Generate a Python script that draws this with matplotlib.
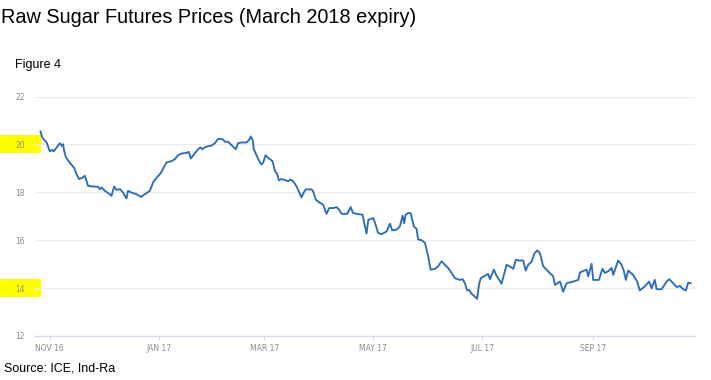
import matplotlib
matplotlib.use("Agg")
import matplotlib.pyplot as plt
from matplotlib.patches import Rectangle
import pandas as pd

# days after 1 Nov 2016 and price (US cents/lb)
days = [-5.2, -4.3, -1.8, 0.0, 1.3, 2.2, 3.8, 5.6, 6.6, 7.4, 8.0, 9.0, 11.2, 13.6, 14.9,
        16.4, 18.1, 19.6, 21.4, 24.2, 27.0, 28.0, 28.9, 30.8, 33.6, 34.5, 36.0, 37.3,
        39.2, 41.0, 42.9, 43.8, 45.7, 48.5, 51.0, 53.2, 56.0, 57.8, 59.7, 62.2, 63.4,
        65.3, 68.1, 70.0, 71.8, 73.7, 76.5, 77.8, 78.9, 80.8, 83.0, 84.4, 85.3, 87.3,
        90.5, 92.4, 94.2, 96.7, 98.0, 99.8, 101.7, 104.1, 105.4, 107.3, 110.1, 111.6,
        112.5, 113.5, 114.2, 115.7, 117.2, 118.5, 119.4, 120.8, 122.2, 124.7, 126.0,
        127.3, 128.2, 129.7, 132.1, 133.4, 134.8, 136.2, 138.1, 139.6, 140.9, 142.2,
        143.3, 146.5, 147.4, 148.9, 150.8, 153.0, 154.9, 156.4, 158.6, 160.5, 162.0,
        163.3, 166.5, 168.4, 169.8, 172.6, 175.1, 176.4, 177.3, 178.3, 181.1, 182.4,
        183.8, 185.7, 188.5, 190.4, 191.7, 194.1, 196.0, 197.5, 198.4, 199.2, 200.6,
        202.0, 203.8, 205.3, 206.2, 208.1, 210.0, 211.8, 213.2, 215.6, 217.4, 219.3,
        221.2, 223.0, 224.9, 226.8, 229.6, 231.1, 232.4, 233.6, 234.8, 236.1, 238.0,
        239.2, 240.4, 241.3, 243.6, 245.4, 246.4, 248.6, 250.1, 251.6, 252.9, 254.2,
        255.7, 257.6, 259.4, 260.9, 262.8, 265.0, 266.4, 267.8, 269.7, 271.3, 273.0,
        274.4, 276.2, 278.9, 281.8, 282.8, 285.6, 287.4, 289.3, 293.0, 295.8, 296.8,
        300.5, 301.4, 303.3, 304.2, 307.4, 309.4, 310.8, 312.6, 314.5, 315.4, 318.2,
        320.1, 321.4, 322.5, 323.8, 326.6, 328.8, 330.3, 333.1, 335.5, 336.9, 338.7,
        339.7, 342.5, 345.3, 346.8, 349.0, 350.9, 352.7, 354.6, 356.1, 357.4, 358.7]
prices = [20.54, 20.29, 20.08, 19.71, 19.77, 19.71, 19.87, 20.05, 19.94, 20.01, 19.73,
          19.46, 19.23, 19.02, 18.76, 18.55, 18.60, 18.69, 18.27, 18.24, 18.23, 18.13,
          18.20, 18.06, 17.92, 17.85, 18.24, 18.10, 18.13, 17.99, 17.74, 18.06, 17.99,
          17.92, 17.81, 17.92, 18.06, 18.41, 18.60, 18.81, 18.98, 19.25, 19.30, 19.38,
          19.55, 19.62, 19.64, 19.69, 19.41, 19.59, 19.80, 19.87, 19.80, 19.90, 19.95,
          20.05, 20.23, 20.22, 20.11, 20.11, 19.97, 19.80, 20.05, 20.08, 20.08, 20.19,
          20.33, 20.19, 19.80, 19.55, 19.30, 19.16, 19.23, 19.55, 19.44, 19.30, 18.89,
          18.76, 18.50, 18.55, 18.50, 18.46, 18.53, 18.46, 18.25, 18.00, 17.79, 18.00,
          18.12, 18.12, 18.04, 17.69, 17.58, 17.48, 17.10, 17.34, 17.34, 17.38, 17.27,
          17.10, 17.10, 17.38, 17.13, 17.09, 17.06, 16.58, 16.28, 16.85, 16.92, 16.64,
          16.30, 16.25, 16.36, 16.69, 16.41, 16.44, 16.58, 17.02, 16.71, 17.06, 17.13,
          17.13, 16.58, 16.47, 16.03, 16.00, 15.89, 15.33, 14.77, 14.80, 14.91, 15.12,
          14.97, 14.84, 14.63, 14.41, 14.34, 14.37, 14.20, 13.90, 13.92, 13.76, 13.64,
          13.55, 14.20, 14.41, 14.51, 14.59, 14.37, 14.77, 14.51, 14.34, 14.18, 14.55,
          14.97, 14.90, 14.80, 15.18, 15.15, 15.15, 14.73, 14.97, 15.10, 15.45, 15.57,
          15.45, 14.91, 14.70, 14.49, 14.13, 14.27, 13.85, 14.20, 14.27, 14.34, 14.65,
          14.77, 14.49, 15.01, 14.34, 14.34, 14.80, 14.63, 14.70, 14.84, 14.55, 15.15,
          14.97, 14.70, 14.34, 14.73, 14.55, 14.27, 13.90, 14.07, 14.27, 13.99, 14.34,
          13.95, 13.95, 14.27, 14.37, 14.20, 14.04, 14.09, 13.95, 13.90, 14.23, 14.20]

y_ticks = [12, 14, 16, 18, 20, 22]
highlighted = [20, 14]
x_ticks = ["2016-11-01", "2017-01-01", "2017-03-01", "2017-05-01", "2017-07-01", "2017-09-01"]

start = pd.Timestamp("2016-11-01")
dates = start + pd.to_timedelta(days, unit="D")

fig = plt.figure(figsize=(7.11, 3.80), dpi=100)
ax = fig.add_axes([0.049, 0.116, 0.928, 0.630])

ax.plot(dates, prices, color="#2f6db3", lw=1.35, zorder=3)

ax.set_ylim(12, 22)
ax.set_xlim(start + pd.Timedelta(days=-8.4), start + pd.Timedelta(days=361))
ax.set_yticks(y_ticks)
ax.set_xticks(pd.to_datetime(x_ticks))
ax.set_xticklabels([pd.Timestamp(t).strftime("%b %y").upper() for t in x_ticks])

ax.grid(axis="y", color="#ececec", lw=0.9)
ax.set_axisbelow(True)
for s in ["top", "right", "left"]:
    ax.spines[s].set_visible(False)
ax.spines["bottom"].set_color("#d3dcec")
ax.spines["bottom"].set_linewidth(0.9)

tick_font = ["Liberation Sans Narrow", "DejaVu Sans"]
ax.tick_params(axis="y", length=0, pad=7, labelsize=5.5, labelcolor="#8c8c8c")
ax.tick_params(axis="x", length=3, width=0.7, color="#d3dcec", pad=3,
               labelsize=5.5, labelcolor="#8c8c8c")
for lab in ax.get_xticklabels() + ax.get_yticklabels():
    lab.set_family(tick_font)

# yellow highlight behind two of the y labels
for v in highlighted:
    ax.add_patch(Rectangle((-0.049 / 0.928, v - 0.38), 0.058 / 0.928, 0.76,
                           transform=ax.get_yaxis_transform(), clip_on=False,
                           facecolor="#ffff00", edgecolor="none", zorder=0))

fig.text(0.002, 0.98, "Raw Sugar Futures Prices (March 2018 expiry)",
         fontsize=14.3, family="Liberation Sans", va="top", ha="left")
fig.text(0.021, 0.83, "Figure 4", fontsize=9, family="Liberation Sans",
         va="center", ha="left")
fig.text(0.006, 0.03, "Source: ICE, Ind-Ra", fontsize=9, family="Liberation Sans",
         va="center", ha="left")

fig.savefig("out.png", dpi=100)
